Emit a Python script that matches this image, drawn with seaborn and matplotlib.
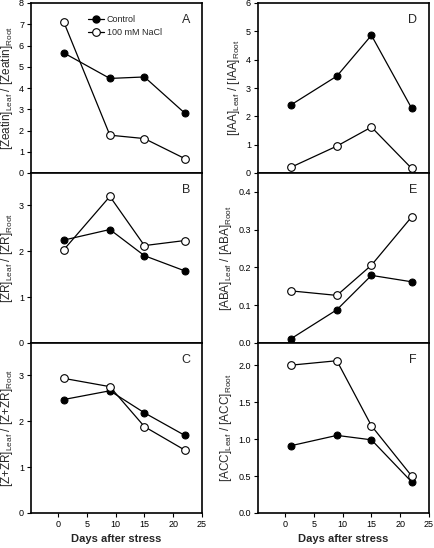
import numpy as np
import pandas as pd
import matplotlib
matplotlib.use("Agg")
import matplotlib.pyplot as plt
import seaborn as sns
from matplotlib.lines import Line2D

sns.set_style("ticks")
plt.rcParams["font.family"] = ["Liberation Sans", "DejaVu Sans"]
plt.rcParams["mathtext.fontset"] = "custom"
plt.rcParams["mathtext.rm"] = "Liberation Sans"
plt.rcParams["mathtext.it"] = "Liberation Sans:italic"
plt.rcParams["mathtext.bf"] = "Liberation Sans:bold"

days = [1, 9, 15, 22]

zeatin_ctrl = [5.65, 4.45, 4.52, 2.82]
zeatin_nacl = [7.10, 1.78, 1.62, 0.68]
zr_ctrl = [2.24, 2.47, 1.90, 1.57]
zr_nacl = [2.03, 3.19, 2.12, 2.23]
zzr_ctrl = [2.47, 2.66, 2.18, 1.69]
zzr_nacl = [2.93, 2.75, 1.88, 1.37]
iaa_ctrl = [2.40, 3.42, 4.86, 2.28]
iaa_nacl = [0.20, 0.95, 1.62, 0.16]
aba_ctrl = [0.011, 0.088, 0.179, 0.162]
aba_nacl = [0.138, 0.126, 0.206, 0.334]
acc_ctrl = [0.91, 1.05, 0.99, 0.42]
acc_nacl = [2.00, 2.06, 1.18, 0.50]

panels = [
    ("A", "Zeatin", zeatin_ctrl, zeatin_nacl, (0, 8), [0, 1, 2, 3, 4, 5, 6, 7, 8], "{:.0f}"),
    ("B", "ZR", zr_ctrl, zr_nacl, (0, 3.7), [0, 1, 2, 3], "{:.0f}"),
    ("C", "Z+ZR", zzr_ctrl, zzr_nacl, (0, 3.7), [0, 1, 2, 3], "{:.0f}"),
    ("D", "IAA", iaa_ctrl, iaa_nacl, (0, 6), [0, 1, 2, 3, 4, 5, 6], "{:.0f}"),
    ("E", "ABA", aba_ctrl, aba_nacl, (0, 0.45), [0.0, 0.1, 0.2, 0.3, 0.4], "{:.1f}"),
    ("F", "ACC", acc_ctrl, acc_nacl, (0, 2.3), [0.0, 0.5, 1.0, 1.5, 2.0], "{:.1f}"),
]

fig = plt.figure(figsize=(4.35, 5.48), dpi=100)
col_x = [31 / 435, 258 / 435]
w = 171 / 435
h = 170 / 548
top = 1 - 3 / 548

for i, (letter, name, ctrl, nacl, ylim, yticks, fmt) in enumerate(panels):
    col, row = divmod(i, 3)
    ax = fig.add_axes([col_x[col], top - (row + 1) * h, w, h])
    df = pd.DataFrame({"day": days, "ctrl": ctrl, "nacl": nacl})
    sns.lineplot(data=df, x="day", y="ctrl", ax=ax, color="black", lw=0.9,
                 marker="o", markersize=5, markerfacecolor="black",
                 markeredgecolor="black", zorder=3)
    sns.lineplot(data=df, x="day", y="nacl", ax=ax, color="black", lw=0.9,
                 marker="o", markersize=5.5, markerfacecolor="white",
                 markeredgecolor="black", markeredgewidth=0.8, zorder=3)
    ax.set_xlim(-4.7, 25)
    ax.set_ylim(*ylim)
    ax.set_yticks(yticks)
    ax.set_yticklabels([fmt.format(t) for t in yticks])
    ax.set_xticks([0, 5, 10, 15, 20, 25])
    for s in ax.spines.values():
        s.set_linewidth(1.2)
        s.set_color("black")
    ax.tick_params(axis="both", direction="out", length=3, width=0.8,
                   labelsize=6.5, pad=2, colors="black")
    if row < 2:
        ax.tick_params(axis="x", bottom=False, labelbottom=False)
        ax.set_xlabel("")
    else:
        ax.set_xlabel("Days after stress", fontsize=8, fontweight="bold", labelpad=4)
    ax.set_ylabel(f"[{name}]$_{{\\mathrm{{Leaf}}}}$ / [{name}]$_{{\\mathrm{{Root}}}}$",
                  fontsize=8.5, labelpad=3)
    ax.text(0.93, 0.90, letter, transform=ax.transAxes, ha="right", va="center",
            fontsize=9)
    if letter == "A":
        handles = [
            Line2D([], [], color="black", lw=0.9, marker="o", markersize=5,
                   markerfacecolor="black"),
            Line2D([], [], color="black", lw=0.9, marker="o", markersize=5.5,
                   markerfacecolor="white", markeredgewidth=0.8),
        ]
        ax.legend(handles, ["Control", "100 mM NaCl"], loc="upper left",
                  bbox_to_anchor=(0.31, 0.95), frameon=False, fontsize=6.5,
                  handlelength=1.8, handletextpad=0.3, labelspacing=0.4,
                  borderaxespad=0)

fig.savefig("out.png", dpi=100)
